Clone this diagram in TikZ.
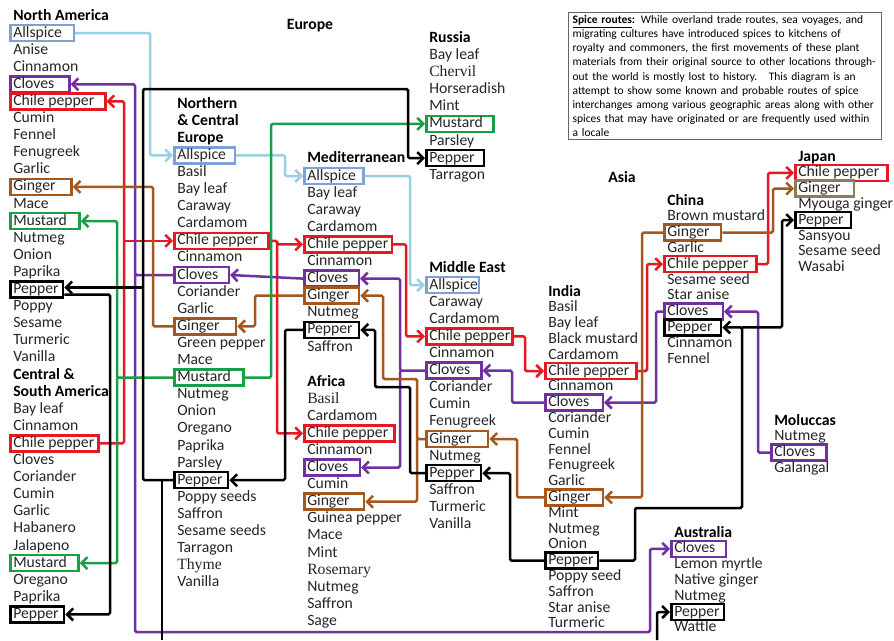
\documentclass[tikz,border=0pt]{standalone}
\usepackage{fontspec}
\setmainfont{Carlito}
\newfontfamily\serfont{Liberation Serif}
\usetikzlibrary{arrows.meta}
\definecolor{txt}{RGB}{38,38,38}
\definecolor{cblue}{RGB}{155,208,228}
\definecolor{cblueb}{RGB}{125,160,215}
\definecolor{cred}{RGB}{228,25,35}
\definecolor{cpur}{RGB}{112,48,160}
\definecolor{cbrn}{RGB}{165,88,30}
\definecolor{cjap}{RGB}{140,125,90}
\definecolor{cgrn}{RGB}{25,160,70}
\definecolor{cframe}{RGB}{100,100,100}
\newcommand\itemfont{\fontsize{15.7}{17}\selectfont}
\newcommand\spcol[5]{%
  \foreach \cnm/\cst/\cpd [count=\ci] in {#5}{%
    \node[spitem,\cst,rp=\cpd] (#1\ci) at (#2,{#3+#4*(\ci-1)}) {\cnm};}}
\tikzset{
  spitem/.style={anchor=west, inner xsep=3pt, inner ysep=0pt, minimum height=16pt,
    text height=11.5pt, text depth=3.5pt, font=\itemfont, text=txt, line width=2.5pt},
  rp/.style={execute at end node={\hspace*{\dimexpr#1pt-3pt\relax}}},
  pl/.style={},
  hd/.style={font=\itemfont\bfseries, text=black},
  sr/.style={font=\itemfont\serfont},
  bA/.style={draw=cblueb}, bR/.style={draw=cred}, bP/.style={draw=cpur},
  bG/.style={draw=cbrn}, bJ/.style={draw=cjap}, bM/.style={draw=cgrn}, bK/.style={draw=black},
  link/.style={line width=2.5pt, rounded corners=1.5pt},
  arr/.style={-{Straight Barb[length=6pt,width=12pt]}},
  lb/.style={link,draw=cblue}, lr/.style={link,draw=cred}, lp/.style={link,draw=cpur},
  lg/.style={link,draw=cbrn}, lm/.style={link,draw=cgrn}, lk/.style={link,draw=black}
}
\begin{document}
\begin{tikzpicture}[x=1pt,y=-1pt]
\fill[white] (0,0) rectangle (894,640);
\useasboundingbox (0,0) rectangle (894,640);

% region labels
\node[font=\itemfont\bfseries] (lEurope) at (310,26) {Europe};
\node[font=\itemfont\bfseries] (lAsia) at (622,177) {Asia};
\node[spitem,hd] (naH) at (9,16) {North America};

% columns
\spcol{na}{9}{33}{17.1}{Allspice/bA/12, Anise/pl/3, Cinnamon/pl/3, Cloves/bP/15, Chile pepper/bR/11, Cumin/pl/3, Fennel/pl/3, Fenugreek/pl/3, Garlic/pl/3, Ginger/bG/16, Mace/pl/3, Mustard/bM/12.5, Nutmeg/pl/3, Onion/pl/3, Paprika/pl/3, Pepper/bK/4.5, Poppy/pl/3, Sesame/pl/3, Turmeric/pl/3, Vanilla/pl/3, Central \&/hd/3, South America/hd/3, Bay leaf/pl/3, Cinnamon/pl/3, Chile pepper/bR/4, Cloves/pl/3, Coriander/pl/3, Cumin/pl/3, Garlic/pl/3, Habanero/pl/3, Jalapeno/pl/3, Mustard/bM/11.5, Oregano/pl/3, Paprika/pl/3, Pepper/bK/5.5}

\spcol{nce}{173}{104}{17.1}{Northern/hd/3, \& Central/hd/3, Europe/hd/3, Allspice/bA/9, Basil/pl/3, Bay leaf/pl/3, Caraway/pl/3, Cardamom/pl/3, Chile pepper/bR/10, Cinnamon/pl/3, Cloves/bP/10.5, Coriander/pl/3, Garlic/pl/3, Ginger/bG/16.5, Green pepper/pl/3, Mace/pl/3, Mustard/bM/12.5, Nutmeg/pl/3, Onion/pl/3, Oregano/pl/3, Paprika/pl/3, Parsley/pl/3, Pepper/bK/5.5, Poppy seeds/pl/3, Saffron/pl/3, Sesame seeds/pl/3, Tarragon/pl/3, Thyme/sr/3, Vanilla/pl/3}

\spcol{med}{303}{158.9}{17.1}{Mediterranean/hd/3, Allspice/bA/7.5, Bay leaf/pl/3, Caraway/pl/3, Cardamom/pl/3, Chile pepper/bR/3.5, Cinnamon/pl/3, Cloves/bP/10.5, Ginger/bG/9.5, Nutmeg/pl/3, Pepper/bK/6.5, Saffron/pl/3}

\spcol{af}{303}{382}{17.1}{Africa/hd/3, Basil/sr/3, Cardamom/pl/3, Chile pepper/bR/6, Cinnamon/pl/3, Cloves/bP/11.5, Cumin/pl/3, Ginger/bG/14.5, Guinea pepper/pl/3, Mace/pl/3, Mint/pl/3, Rosemary/sr/3, Nutmeg/pl/3, Saffron/pl/3, Sage/pl/3}

\spcol{ru}{425}{38.4}{17.1}{Russia/hd/3, Bay leaf/pl/3, Chervil/sr/3, Horseradish/pl/3, Mint/pl/3, Mustard/bM/10.5, Parsley/pl/3, Pepper/bK/9.5, Tarragon/pl/3}

\spcol{me}{425}{268}{17.1}{Middle East/hd/3, Allspice/bA/1, Caraway/pl/3, Cardamom/pl/3, Chile pepper/bR/2, Cinnamon/pl/3, Cloves/bP/11, Coriander/pl/3, Cumin/pl/3, Fenugreek/pl/3, Ginger/bG/16.5, Nutmeg/pl/3, Pepper/bK/6.5, Saffron/pl/3, Turmeric/pl/3, Vanilla/pl/3}

\spcol{in}{544}{292}{15.8}{India/hd/3, Basil/pl/3, Bay leaf/pl/3, Black mustard/pl/3, Cardamom/pl/3, Chile pepper/bR/7, Cinnamon/pl/3, Cloves/bP/13.5, Coriander/pl/3, Cumin/pl/3, Fennel/pl/3, Fenugreek/pl/3, Garlic/pl/3, Ginger/bG/12.5, Mint/pl/3, Nutmeg/pl/3, Onion/pl/3, Pepper/bK/4.5, Poppy seed/pl/3, Saffron/pl/3, Star anise/pl/3, Turmeric/pl/3}

\spcol{ch}{663}{201}{15.8}{China/hd/3, Brown mustard/pl/3, Ginger/bG/11.5, Garlic/pl/3, Chile pepper/bR/8, Sesame seed/pl/3, Star anise/pl/3, Cloves/bP/14.5, Pepper/bK/8.5, Cinnamon/pl/3, Fennel/pl/3}

\spcol{jp}{794}{157}{15.8}{Japan/hd/3, Chile pepper/bR/8, Ginger/bJ/13.5, Myouga ginger/pl/3, Pepper/bK/7.5, Sansyou/pl/3, Sesame seed/pl/3, Wasabi/pl/3}

\spcol{mo}{770}{421}{15.8}{Moluccas/hd/3, Nutmeg/pl/3, Cloves/bP/11, Galangal/pl/3}

\spcol{au}{670}{533}{15.8}{Australia/hd/3, Cloves/bP/10.5, Lemon myrtle/pl/3, Native ginger/pl/3, Nutmeg/pl/3, Pepper/bK/4.5, Wattle/pl/3}

% description box
\node[draw=cframe, line width=1.2pt, anchor=north west, inner xsep=4pt, inner ysep=3pt,
  text width=305pt, align=left, font=\fontsize{11.5}{14.1}\selectfont, text=black] (desc) at (568,12)
{\textbf{\underline{Spice routes}:} While overland trade routes, sea voyages, and\\
migrating cultures have introduced spices to kitchens of\\
royalty and commoners, the first movements of these plant\\
materials from their original source to other locations through-\\
out the world is mostly lost to history.\quad This diagram is an\\
attempt to show some known and probable routes of spice\\
interchanges among various geographic areas along with other\\
spices that may have originated or are frequently used within\\
a locale};

% free ends / bends
\coordinate (pcA) at (135,632);
\coordinate (pcB) at (650,632);
\coordinate (gA) at (417,379);
\coordinate (gB) at (383,379);
\coordinate (kA) at (635,508);
\coordinate (kB) at (742,508);
\coordinate (kC) at (410,387);
\coordinate (kD) at (375,387);
\coordinate (kE) at (143,89);
\coordinate (kF) at (408,89);
\coordinate (kG) at (162,640);
\coordinate (kH) at (657,640);
\coordinate (naPin) at ([yshift=2pt]na16.east);
\coordinate (naPout) at ([yshift=-5pt]na16.east);

% Allspice
\draw[lb,arr] (na1.east) -- (na1.east -| 150,0) |- (nce4.west);
\draw[lb,arr] (nce4.east) -- (nce4.east -| 285,0) |- (med2.west);
\draw[lb,arr] (med2.east) -- (med2.east -| 410,0) |- (me2.west);

% Chile pepper
\draw[lr,arr] (na25.east) -- (na25.east -| 124,0) |- (na5.east);
\draw[lr,arr] (nce9.west -| 124,0) -- (nce9.west);
\draw[lr,arr] (nce9.east) -- (nce9.east -| 277,0) |- (med6.west);
\draw[lr,arr] (nce9.east -| 277,0) |- (af4.west);
\draw[lr,arr] (med6.east) -- (med6.east -| 406,0) |- (me5.west);
\draw[lr,arr] (me5.east) -- (me5.east -| 525,0) |- (in6.west);
\draw[lr,arr] (in6.east) -- (in6.east -| 647,0) |- (ch5.west);
\draw[lr,arr] (ch5.east) -- (ch5.east -| 768,0) |- (jp2.west);

% Cloves
\draw[lp,arr] (mo3.west) -- (mo3.west -| 758,0) |- (ch8.east);
\draw[lp,arr] (ch8.west) -- (ch8.west -| 656,0) |- (in8.east);
\draw[lp,arr] (in8.west) -- (in8.west -| 512,0) |- (me7.east);
\draw[lp,arr] (me7.west) -- (me7.west -| 400,0) |- (med8.east);
\draw[lp,arr] (me7.west -| 400,0) |- (af6.east);
\draw[lp,arr] (med8.west) -- (nce11.east);
\draw[lp,arr] (nce11.west) -- (nce11.west -| 135,0) |- (na4.east);
\draw[lp,arr] (nce11.west -| 135,0) -- (pcA) -- (pcB) |- (au2.west);

% Ginger
\draw[lg,arr] (ch3.west) -- (ch3.west -| 642,0) |- (in14.east);
\draw[lg,arr] (in14.west) -- (in14.west -| 517,0) |- (me11.east);
\draw[lg,arr] (me11.west) -- (me11.west -| 417,0) -- (gA) -- (gB) |- (med9.east);
\draw[lg,arr] (me11.west -| 417,0) |- (af8.east);
\draw[lg,arr] (med9.west) -- (med9.west -| 255,0) |- (nce14.east);
\draw[lg,arr] (nce14.west) -- (nce14.west -| 153,0) |- (na10.east);
\draw[lg,arr] (ch3.east) -- (ch3.east -| 773,0) |- (jp3.west);

% Mustard
\draw[lm,arr] (nce17.east) -- (nce17.east -| 271,0) |- (ru6.west);
\draw[lm,arr] (nce17.west) -- (nce17.west -| 117,0) |- (na12.east);
\draw[lm,arr] (nce17.west -| 117,0) |- (na32.east);

% Pepper
\draw[lk,arr] (in18.east) -- (in18.east -| 635,0) -- (kA) -- (kB) |- (ch9.east);
\draw[lk,arr] (ch9.east -| 742,0) -- (ch9.east -| 782,0) |- (jp5.west);
\draw[lk,arr] (in18.west) -- (in18.west -| 510,0) |- (me13.east);
\draw[lk,arr] (me13.west) -- (me13.west -| 410,0) -- (kC) -- (kD) |- (med11.east);
\draw[lk,arr] (med11.west) -- (med11.west -| 285,0) |- (nce23.east);
\draw[lk,arr] (nce23.west) -- (nce23.west -| 143,0) -- (kE) -- (kF) |- (ru8.west);
\draw[lk,arr] (naPin -| 143,0) -- (naPin);
\draw[lk,arr] (naPout) -- (naPout -| 110,0) |- (na35.east);
\draw[lk] (nce23.west -| 162,0) -- (kG);
\draw[lk,arr] (kH) |- (au6.west);
\end{tikzpicture}
\end{document}
